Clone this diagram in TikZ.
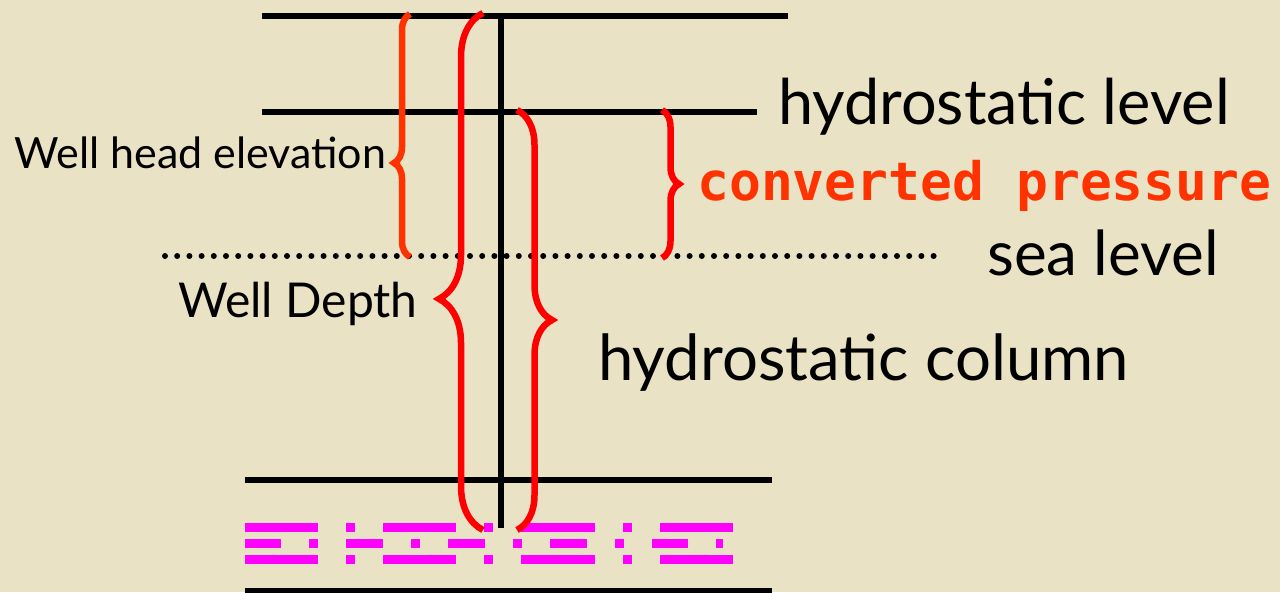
\documentclass[tikz,border=0pt]{standalone}
\usepackage{fontspec}
\setmainfont{Lato}
\newfontfamily\monofont{DejaVu Sans Mono}
\usetikzlibrary{decorations.pathreplacing}
\definecolor{PaperBeige}{RGB}{233,226,196}
\definecolor{BraceRed}{RGB}{255,0,0}
\definecolor{BraceOrange}{RGB}{255,51,0}
\definecolor{ScreenMagenta}{RGB}{255,0,255}

\begin{document}
\begin{tikzpicture}[x=1pt,y=-1pt,
    level/.style={line width=6pt},
    curly/.style args={#1/#2}{line width=6.5pt,decorate,
      decoration={brace,amplitude=#1,aspect=#2}},
    screen/.style={ScreenMagenta,line width=9pt},
    tag/.style={anchor=base west,inner sep=0pt}]
  % paper
  \fill[PaperBeige] (0,0) rectangle (1280,592);
  \useasboundingbox (0,0) rectangle (1280,592);

  % levels and well casing
  \draw[level] (262,16) -- (788,16);
  \draw[level] (262,111.5) -- (757,111.5);
  \draw[line width=6pt,line cap=round,dash pattern=on 0pt off 12.2pt]
    (165,256) -- (940,256);
  \draw[level] (245,479.5) -- (772,479.5);
  \draw[level] (245,591) -- (772,591);
  \draw[level] (501,13) -- (501,528);

  % screen
  \draw[screen,dash pattern=on 73.3pt off 28pt on 9pt off 28pt]
    (244.7,527.5) -- (733,527.5);
  \draw[screen,dash pattern=on 36.7pt off 28pt on 9pt off 28pt]
    (244.7,543.5) -- (723,543.5);
  \draw[screen,dash pattern=on 73.3pt off 28pt on 9pt off 28pt]
    (244.7,559.5) -- (733,559.5);

  % braces
  \draw[curly=16pt/0.387,BraceOrange] (410,257) -- (410,14);
  \draw[curly=44pt/0.447,BraceRed] (483,530) -- (483,13);
  \draw[curly=35pt/0.5,BraceRed] (517,110) -- (517,530);
  \draw[curly=17pt/0.5,BraceRed] (662,110) -- (662,258);

  % labels
  \node[tag,font=\fontsize{63}{70}\selectfont] (hlevel) at (778,124) {hydrostatic level};
  \node[tag,font=\monofont\bfseries\fontsize{53}{60}\selectfont,text=BraceOrange]
    (pressure) at (697,200) {converted pressure};
  \node[tag,font=\fontsize{62}{70}\selectfont] (sea) at (987,275) {sea level};
  \node[tag,font=\fontsize{63.5}{70}\selectfont] (column) at (598,380) {hydrostatic column};
  \node[tag,font=\fontsize{43}{48}\selectfont] (elev) at (14,168) {Well head elevation};
  \node[tag,font=\fontsize{48}{54}\selectfont] (depth) at (178,317) {Well Depth};
\end{tikzpicture}
\end{document}
